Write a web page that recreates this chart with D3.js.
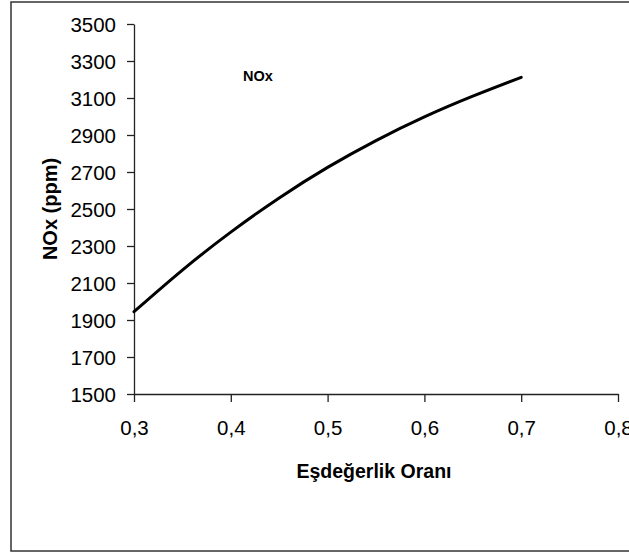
<!DOCTYPE html>
<html>
<head>
<meta charset="utf-8">
<script src="https://cdn.jsdelivr.net/npm/d3@7"></script>
<style>
  html, body { margin: 0; padding: 0; background: #fff; }
  svg { display: block; font-family: "Liberation Sans", Arial, sans-serif; }
  .axis path, .axis line { stroke: #222; stroke-width: 1.3; }
  .axis text { fill: #000; font-size: 20.5px; }
  .title { font-weight: bold; fill: #000; }
</style>
</head>
<body>
<div id="chart"></div>
<script>
// ── Data ───────────────────────────────────────────────────
const ratios  = [0.30, 0.35, 0.40, 0.45, 0.50, 0.55, 0.60, 0.65, 0.70];
const noxPpm  = [1945, 2170, 2375, 2560, 2725, 2870, 2998, 3110, 3212];
const xTicks  = [0.3, 0.4, 0.5, 0.6, 0.7, 0.8];
const yTicks  = [1500, 1700, 1900, 2100, 2300, 2500, 2700, 2900, 3100, 3300, 3500];
const seriesName = "NOx";
const xTitle  = "Eşdeğerlik Oranı";
const yTitle  = "NOx (ppm)";

const W = 629, H = 554;
const plot = { left: 134, right: 618, top: 24, bottom: 394 };

const svg = d3.select("#chart").append("svg")
  .attr("width", W)
  .attr("height", H);

// outer frame (runs past the right edge in the original)
svg.append("rect")
  .attr("x", 11).attr("y", 2)
  .attr("width", 660).attr("height", 549)
  .attr("fill", "none")
  .attr("stroke", "#333")
  .attr("stroke-width", 1.5);

const x = d3.scaleLinear().domain([0.3, 0.8]).range([plot.left, plot.right]);
const y = d3.scaleLinear().domain([1500, 3500]).range([plot.bottom, plot.top]);

const fmtX = d => d3.format(".1f")(d).replace(".", ",");

// x axis
svg.append("g")
  .attr("class", "axis")
  .attr("transform", `translate(0,${plot.bottom})`)
  .call(d3.axisBottom(x).tickValues(xTicks).tickFormat(fmtX)
    .tickSizeInner(8).tickSizeOuter(0).tickPadding(18));

// y axis
svg.append("g")
  .attr("class", "axis")
  .attr("transform", `translate(${plot.left},0)`)
  .call(d3.axisLeft(y).tickValues(yTicks).tickFormat(d3.format("d"))
    .tickSizeInner(7).tickSizeOuter(0).tickPadding(11))
  .selectAll("text").attr("dy", "0.36em");

// line
const line = d3.line()
  .x((d, i) => x(ratios[i]))
  .y(d => y(d))
  .curve(d3.curveNatural);

svg.append("path")
  .datum(noxPpm)
  .attr("fill", "none")
  .attr("stroke", "#000")
  .attr("stroke-width", 3)
  .attr("stroke-linecap", "round")
  .attr("d", line);

// series label
svg.append("text")
  .attr("class", "title")
  .attr("x", 243).attr("y", 81)
  .style("font-size", "14.5px")
  .text(seriesName);

// axis titles
svg.append("text")
  .attr("class", "title")
  .attr("x", 374).attr("y", 478)
  .attr("text-anchor", "middle")
  .style("font-size", "19.5px")
  .text(xTitle);

svg.append("text")
  .attr("class", "title")
  .attr("transform", `translate(57,${(plot.top + plot.bottom) / 2}) rotate(-90)`)
  .attr("text-anchor", "middle")
  .style("font-size", "20px")
  .text(yTitle);
</script>
</body>
</html>
